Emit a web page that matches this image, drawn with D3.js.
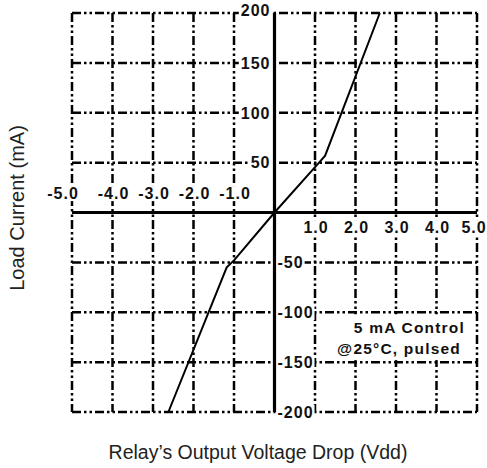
<!DOCTYPE html>
<html>
<head>
<meta charset="utf-8">
<script src="https://cdn.jsdelivr.net/npm/d3@7"></script>
<style>
  body { margin: 0; background: #fff; }
  svg { display: block; font-family: "Liberation Sans", Arial, sans-serif; }
</style>
</head>
<body>
<svg id="chart" width="487" height="468"></svg>
<script>
// data
const xTicks = [-5, -4, -3, -2, -1, 1, 2, 3, 4, 5];
const yTicks = [-200, -150, -100, -50, 50, 100, 150, 200];
const curveV = [-2.62, -1.18, -1.0, 0, 1.1, 1.25, 2.6];
const curveI = [-200, -55, -48, 0, 50, 57, 200];
const noteLines = ["5 mA Control", "@25\u00B0C, pulsed"];
const xTitle = "Relay\u2019s Output Voltage Drop (Vdd)";
const yTitle = "Load Current (mA)";

const svg = d3.select("#chart");
const x = d3.scaleLinear().domain([-5, 5]).range([72, 477]);
const y = d3.scaleLinear().domain([-200, 200]).range([412, 13]);

const dash = "9,3,2.5,3,2.5,3";
const gridX = d3.range(-5, 5.01, 1);
const gridY = d3.range(-200, 200.1, 50);

const grid = svg.append("g").attr("stroke", "#000").attr("stroke-width", 2.5)
  .attr("stroke-dasharray", dash).attr("fill", "none");

grid.selectAll(".vx")
  .data(gridX)
  .join("line")
  .attr("x1", d => x(d)).attr("x2", d => x(d))
  .attr("y1", y(200)).attr("y2", y(-200));

grid.selectAll(".hy")
  .data(gridY)
  .join("line")
  .attr("y1", d => y(d)).attr("y2", d => y(d))
  .attr("x1", x(-5)).attr("x2", x(5));

// white box for the note
svg.append("rect")
  .attr("x", x(1) + 2)
  .attr("y", y(-100) + 2)
  .attr("width", x(5) - x(1) - 4)
  .attr("height", y(-150) - y(-100) - 4)
  .attr("fill", "#fff");

svg.append("g")
  .selectAll("text")
  .data(noteLines)
  .join("text")
  .attr("x", (d, i) => i === 0 ? 465 : 461)
  .attr("y", (d, i) => 333 + i * 21)
  .attr("text-anchor", "end")
  .attr("font-size", 15.5)
  .attr("font-weight", "bold")
  .attr("letter-spacing", 1.2)
  .attr("fill", "#111")
  .text(d => d);

// tick labels with white backing
const labels = svg.append("g")
  .attr("font-size", 16)
  .attr("font-weight", "bold")
  .attr("letter-spacing", 1)
  .attr("fill", "#111");

labels.selectAll(".xl")
  .data(xTicks)
  .join("text")
  .attr("class", "xl")
  .attr("x", d => x(d) + (d === -5 ? -9 : d === 5 ? -3 : 1))
  .attr("y", d => d < 0 ? y(0) - 19 : y(0) + 15)
  .attr("text-anchor", "middle")
  .attr("dy", "0.35em")
  .text(d => d.toFixed(1));

labels.selectAll(".yl")
  .data(yTicks)
  .join("text")
  .attr("class", "yl")
  .attr("x", d => d > 0 ? x(0) - 4 : x(0) + 3)
  .attr("y", d => y(d) + (d === 200 ? -3 : 0))
  .attr("text-anchor", d => d > 0 ? "end" : "start")
  .attr("dy", "0.36em")
  .text(d => d);

labels.selectAll("text").each(function () {
  const b = this.getBBox();
  labels.insert("rect", () => this)
    .attr("x", b.x - 2).attr("y", b.y + 1)
    .attr("width", b.width + 3).attr("height", b.height - 2)
    .attr("fill", "#fff");
});

// main axes
svg.append("line")
  .attr("x1", x(-5)).attr("x2", x(5))
  .attr("y1", y(0)).attr("y2", y(0))
  .attr("stroke", "#000").attr("stroke-width", 3.2);

svg.append("line")
  .attr("x1", x(0)).attr("x2", x(0))
  .attr("y1", y(200)).attr("y2", y(-200))
  .attr("stroke", "#000").attr("stroke-width", 3.2);

// the curve
const pts = curveV.map((v, i) => [v, curveI[i]]);
svg.append("path")
  .datum(pts)
  .attr("fill", "none")
  .attr("stroke", "#000")
  .attr("stroke-width", 2)
  .attr("d", d3.line().x(d => x(d[0])).y(d => y(d[1])));

// axis titles
svg.append("text")
  .attr("x", 258)
  .attr("y", 459)
  .attr("text-anchor", "middle")
  .attr("font-size", 19.5)
  .attr("fill", "#222")
  .text(xTitle);

svg.append("text")
  .attr("transform", "translate(24,208) rotate(-90)")
  .attr("text-anchor", "middle")
  .attr("font-size", 20)
  .attr("fill", "#222")
  .text(yTitle);
</script>
</body>
</html>
